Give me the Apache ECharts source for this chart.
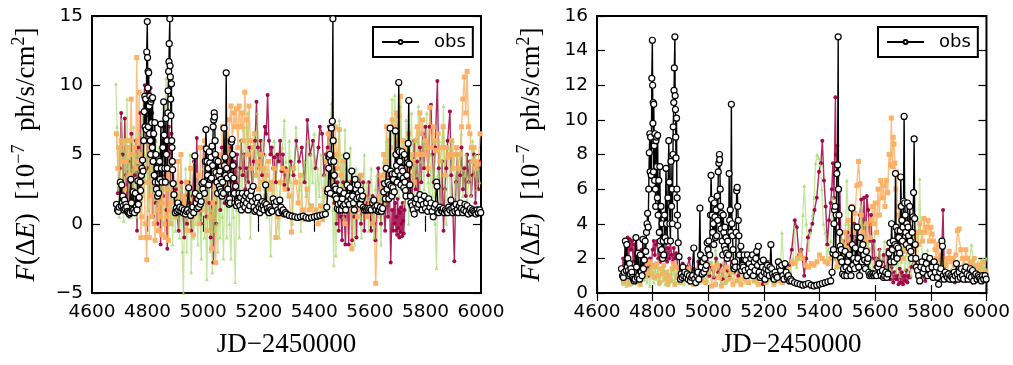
<!DOCTYPE html>
<html>
<head>
<meta charset="utf-8">
<script src="https://cdn.jsdelivr.net/npm/echarts@6/dist/echarts.min.js"></script>
<style>
html,body{margin:0;padding:0;background:#fff;}
#chart{width:1013px;height:365px;}
</style>
</head>
<body>
<div id="chart"></div>
<script>
// ---- tick labels / axes ----
const xTicks = [4600, 4800, 5000, 5200, 5400, 5600, 5800, 6000];
const leftYTicks = [-5, 0, 5, 10, 15];
const rightYTicks = [0, 2, 4, 6, 8, 10, 12, 14, 16];
const xTitle = 'JD\u22122450000';
const legendName = 'obs';

// ---- observed light curve (shared by both panels) ----
const obs = [
[4688,1.4],[4692,1.0],[4695,0.9],[4698,1.2],[4702,3.0],[4705,1.3],[4707,2.8],[4709,1.5],[4711,2.0],[4713,1.3],[4715,1.0],[4717,1.7],[4719,1.1],[4722,1.4],[4725,1.2],[4728,0.9],[4731,0.8],[4734,0.7],[4737,0.8],[4740,3.2],[4742,1.5],[4745,0.9],[4748,2.3],[4750,1.0],[4753,0.8],[4756,2.2],[4759,1.2],[4762,1.0],[4765,3.1],[4767,1.4],[4770,1.9],[4773,3.0],[4775,2.4],[4778,3.5],[4780,4.0],[4782,4.6],[4784,3.8],[4786,6.0],[4788,8.1],[4790,9.2],[4791,7.0],[4793,9.0],[4795,6.8],[4797,12.4],[4799,14.6],[4800,12.0],[4801,9.8],[4802,11.0],[4803,7.0],[4804,10.9],[4806,8.5],[4807,6.5],[4808,9.2],[4810,6.0],[4811,5.0],[4812,8.8],[4814,9.0],[4815,7.3],[4817,5.5],[4818,9.1],[4820,4.5],[4822,6.5],[4824,3.5],[4826,7.3],[4828,3.0],[4830,5.0],[4832,2.5],[4834,4.0],[4836,2.0],[4838,3.0],[4840,2.2],[4843,4.5],[4845,3.2],[4848,7.2],[4850,4.0],[4852,3.0],[4855,5.5],[4858,8.8],[4860,6.4],[4862,4.0],[4864,3.0],[4866,7.6],[4868,5.0],[4870,6.0],[4871,4.0],[4873,8.0],[4874,9.6],[4876,11.0],[4877,11.7],[4878,13.0],[4880,14.8],[4881,11.4],[4882,10.6],[4883,9.0],[4884,7.8],[4886,10.1],[4887,6.0],[4888,5.5],[4889,4.5],[4890,3.9],[4892,2.9],[4895,2.1],
[4900,0.8],[4903,1.1],[4906,0.9],[4909,1.5],[4912,1.0],[4916,1.2],[4920,0.9],[4924,1.1],[4928,0.8],[4932,1.0],[4936,0.7],[4940,0.9],[4944,1.0],[4948,2.6],[4951,0.8],[4955,0.6],[4959,1.0],[4963,1.2],[4966,0.8],[4970,4.9],[4972,2.2],[4975,1.5],[4978,1.1],[4981,1.8],[4984,1.2],[4987,2.0],[4990,1.4],[4993,1.6],[4996,2.9],[4999,2.5],[5002,3.0],[5005,2.2],[5008,4.5],[5010,6.8],[5012,5.4],[5014,4.5],[5016,3.5],[5018,4.0],[5020,2.8],[5022,5.2],[5024,4.4],[5026,3.2],[5028,4.8],[5030,3.3],[5032,5.6],[5034,4.2],[5036,7.0],[5038,7.5],[5040,8.0],[5041,7.7],[5043,6.0],[5044,5.0],[5046,3.7],[5048,4.6],[5050,3.0],[5052,2.2],[5054,4.5],[5056,3.5],[5058,2.7],[5060,3.8],[5062,2.5],[5064,3.2],[5066,2.3],[5068,2.0],[5070,3.0],[5073,2.2],[5075,6.9],[5077,4.2],[5079,4.8],[5081,3.5],[5083,10.9],[5085,4.0],[5087,3.3],[5089,2.5],[5091,1.6],[5093,1.4],[5095,1.8],[5098,1.5],[5100,3.5],[5102,5.9],[5104,6.1],[5106,5.0],[5108,4.2],[5110,3.3],[5112,2.2],[5114,1.5],[5117,2.7],[5120,1.3],[5123,1.6],[5126,1.5],[5129,2.2],[5132,1.3],[5135,1.9],[5138,1.0],[5141,2.2],[5144,1.4],[5147,1.7],[5150,1.2],[5153,2.0],[5156,1.5],[5159,2.2],[5162,1.0],[5165,1.8],[5168,1.3],[5171,2.0],[5174,2.4],[5177,1.6],[5180,2.7],[5183,1.2],[5186,0.9],[5189,1.8],[5192,1.0],[5195,1.5],[5198,1.9],[5201,1.2],[5204,0.8],[5207,1.4],[5210,1.1],[5213,1.6],[5216,1.3],[5219,1.0],[5222,1.5],[5225,2.8],[5228,1.4],[5231,1.1],[5234,0.9],[5237,0.8],[5240,1.2],[5244,1.0],[5248,0.9],[5252,1.8],[5256,1.5],[5260,1.3],[5264,1.6],[5268,1.0],[5272,0.8],[5276,1.7],[5280,1.2],[5284,0.9],[5288,1.0],[5292,0.7],[5296,0.8],
[5300,0.7],[5310,0.6],[5320,0.55],[5330,0.5],[5340,0.45],[5350,0.5],[5360,0.55],[5370,0.45],[5380,0.4],[5390,0.45],[5400,0.5],[5410,0.55],[5420,0.6],[5430,0.65],[5440,0.7],[5445,1.2],[5448,2.3],[5450,2.5],[5452,4.0],[5454,4.8],[5456,5.0],[5458,2.2],[5460,4.5],[5462,6.9],[5465,7.4],[5467,14.8],[5468,6.0],[5470,4.5],[5472,3.5],[5474,2.7],[5476,2.0],[5478,2.5],[5480,1.8],[5483,1.1],[5486,1.4],[5489,1.0],[5492,2.4],[5495,1.5],[5498,1.0],[5501,1.8],[5504,1.3],[5507,2.2],[5510,1.4],[5513,1.0],[5516,4.9],[5518,2.8],[5520,1.6],[5523,2.0],[5526,1.4],[5529,2.6],[5532,1.8],[5535,3.8],[5538,2.0],[5541,1.5],[5544,1.0],[5547,3.2],[5550,2.5],[5553,1.8],[5556,2.8],[5559,2.2],[5562,1.9],[5565,1.4],[5568,2.4],[5571,1.8],[5574,2.0],[5577,1.2],[5580,1.0],[5584,1.1],[5588,1.0],[5592,1.1],[5596,1.0],[5600,1.1],[5605,1.0],[5610,1.5],[5614,1.7],[5618,1.2],[5622,1.0],[5626,1.3],[5630,0.9],[5634,1.0],[5638,1.2],[5642,0.9],[5646,1.1],[5650,2.3],[5653,2.9],[5656,1.8],[5659,4.0],[5662,2.5],[5665,3.0],[5668,1.8],[5671,2.8],[5673,6.9],[5675,3.8],[5677,2.7],[5679,2.0],[5681,3.6],[5683,2.6],[5685,3.2],[5688,2.3],[5690,3.6],[5692,6.7],[5694,5.0],[5696,4.2],[5698,3.0],[5700,3.8],[5702,5.3],[5704,10.2],[5706,5.2],[5708,4.5],[5710,3.5],[5712,2.8],[5714,4.0],[5716,5.2],[5718,3.8],[5720,3.3],[5722,2.6],[5724,5.0],[5726,3.0],[5728,2.4],[5730,2.0],[5733,3.5],[5736,4.4],[5738,5.8],[5740,8.9],[5742,4.3],[5744,2.8],[5746,2.0],[5748,1.5],[5752,1.3],[5756,1.0],[5760,0.7],[5764,1.5],[5768,1.8],[5772,1.2],[5776,1.4],[5780,2.1],[5784,1.7],[5788,1.0],[5792,1.4],[5796,2.0],[5800,1.1],[5804,1.5],[5808,0.9],[5812,1.8],[5816,1.2],[5820,1.5],[5824,0.9],[5828,0.5],[5832,1.2],[5836,1.4],[5840,3.0],[5842,2.7],[5845,1.0],[5848,0.8],[5852,1.2],[5856,1.0],[5860,0.9],[5864,1.1],[5868,0.8],[5872,1.0],[5876,0.9],[5880,0.8],[5884,1.2],[5888,1.0],[5892,1.7],[5895,1.1],[5898,0.8],[5902,1.2],[5906,0.9],[5910,1.4],[5914,1.0],[5918,0.8],[5922,1.3],[5926,1.5],[5930,1.1],[5934,0.8],[5938,1.0],[5942,1.4],[5946,0.9],[5950,1.3],[5954,0.7],[5958,1.0],[5962,1.1],[5966,0.8],[5970,1.0],[5974,0.9],[5978,0.8],[5982,0.7],[5986,1.0],[5990,0.8],[5995,1.0],[5999,0.8]
];

// ---- left panel models ----
const leftCrimson = [
[4693,2.2],[4700,4.0],[4705,8.0],[4710,5.0],[4714,1.5],[4718,7.6],[4722,3.5],[4726,1.0],[4730,4.5],[4734,0.5],[4738,3.0],[4742,6.5],[4746,2.0],[4750,4.0],[4754,3.5],[4758,6.0],[4762,-0.5],[4766,5.5],[4770,2.5],[4774,8.0],[4778,4.5],[4782,3.0],[4786,9.0],[4790,10.0],[4793,6.0],[4796,8.5],[4799,4.0],[4802,9.5],[4805,7.0],[4808,2.0],[4811,9.8],[4814,5.0],[4817,8.0],[4820,0.5],[4823,3.5],[4826,6.0],[4829,1.5],[4832,4.5],[4835,0.0],[4838,2.5],[4841,5.0],[4844,3.0],[4847,-1.5],[4850,4.5],[4853,6.0],[4856,2.0],[4859,7.0],[4862,3.5],[4865,5.5],[4868,1.0],[4871,-1.8],[4874,4.0],[4877,7.0],[4880,5.0],[4883,3.0],[4886,6.5],[4889,2.0],[4893,4.0],[4897,1.0],[4902,2.5],[4907,0.5],[4912,-0.5],[4917,1.5],[4922,3.0],[4927,1.0],[4932,-1.0],[4937,2.0],[4942,0.0],[4947,3.0],[4952,1.5],[4957,-0.5],[4962,2.0],[4967,4.5],[4972,1.0],[4977,6.2],[4982,2.0],[4987,1.0],[4992,0.0],[4997,3.0],[5002,5.5],[5007,2.0],[5012,0.5],[5017,4.0],[5022,1.5],[5027,-1.0],[5032,3.0],[5037,-2.8],[5042,1.5],[5047,0.0],[5052,4.0],[5057,3.5],[5062,1.0],[5067,5.5],[5072,3.0],[5077,1.5],[5082,4.5],[5087,2.0],[5092,6.0],[5097,3.0],[5102,5.5],[5107,2.5],[5112,4.5],[5117,3.0],[5122,5.0],[5127,2.0],[5132,4.0],[5137,6.0],[5142,3.5],[5147,5.0],[5152,2.5],[5157,4.0],[5162,3.0],[5167,5.5],[5172,4.0],[5177,2.5],[5182,4.5],[5187,6.0],[5192,8.8],[5197,5.5],[5202,4.0],[5207,6.0],[5212,3.5],[5217,5.0],[5222,7.0],[5227,6.5],[5232,9.3],[5237,6.0],[5242,5.0],[5247,5.5],[5252,4.0],[5257,4.8],[5262,3.0],[5267,5.0],[5272,4.5],[5277,6.0],[5282,3.8],[5287,5.0],[5292,2.8],[5297,4.0],[5305,2.5],[5315,4.5],[5325,3.5],[5335,6.0],[5345,4.5],[5355,5.5],[5365,3.0],[5375,7.5],[5385,5.0],[5395,6.0],[5405,4.0],[5415,5.5],[5420,7.0],[5428,6.5],[5435,3.5],[5442,5.0],[5448,5.5],[5452,7.0],[5456,3.0],[5460,4.5],[5464,2.0],[5468,5.0],[5472,1.5],[5476,4.0],[5480,0.0],[5484,3.0],[5488,-0.5],[5492,2.5],[5496,0.5],[5500,-1.2],[5504,3.0],[5508,0.5],[5512,-1.5],[5516,2.0],[5520,1.0],[5524,-1.5],[5528,3.0],[5532,1.5],[5536,-1.2],[5540,2.0],[5544,0.5],[5548,1.8],[5552,-1.0],[5556,2.5],[5560,1.0],[5564,3.5],[5568,0.0],[5572,1.5],[5576,3.0],[5580,-0.5],[5584,2.0],[5588,0.5],[5592,1.5],[5596,3.0],[5600,1.5],[5605,-0.5],[5610,2.0],[5615,0.0],[5620,-1.2],[5625,1.0],[5630,4.0],[5635,2.0],[5640,0.0],[5645,3.0],[5650,1.0],[5655,-0.5],[5660,2.5],[5665,0.5],[5670,3.5],[5675,-2.8],[5680,1.0],[5684,-0.5],[5687,2.0],[5690,0.0],[5692,1.5],[5694,-0.5],[5696,0.5],[5698,-0.8],[5700,1.8],[5702,-0.3],[5704,1.0],[5706,-1.0],[5708,0.8],[5710,-0.6],[5712,1.2],[5714,0.0],[5716,-0.9],[5718,1.5],[5720,0.2],[5722,-0.7],[5725,1.0],[5730,3.0],[5735,5.0],[5740,2.0],[5745,4.0],[5750,1.5],[5755,3.0],[5760,6.0],[5765,2.5],[5770,4.5],[5775,1.0],[5780,5.5],[5785,3.0],[5790,6.5],[5795,4.0],[5800,7.0],[5805,5.5],[5810,3.5],[5815,7.0],[5820,8.6],[5825,5.0],[5830,3.0],[5835,5.5],[5843,10.3],[5848,4.0],[5855,1.0],[5860,4.5],[5865,-0.5],[5870,2.5],[5875,4.0],[5880,6.0],[5888,8.1],[5893,3.5],[5898,1.5],[5904,-2.7],[5910,3.0],[5915,5.0],[5920,1.0],[5925,3.5],[5930,5.5],[5935,2.5],[5940,4.0],[5945,2.0],[5950,5.0],[5955,3.0],[5960,4.5],[5965,2.0],[5970,3.5],[5975,5.0],[5980,1.5],[5985,4.0],[5990,2.5],[5995,4.5]
];
const leftOrange = [
[4688,6.5],[4693,4.0],[4697,5.5],[4701,3.0],[4705,6.0],[4709,4.5],[4713,5.8],[4717,2.5],[4721,6.0],[4725,4.5],[4729,5.5],[4733,3.5],[4737,6.0],[4741,9.0],[4745,5.0],[4749,2.0],[4753,5.5],[4757,4.0],[4761,12.0],[4764,6.0],[4767,4.5],[4770,9.5],[4773,3.0],[4776,-1.0],[4779,0.5],[4782,5.0],[4785,8.0],[4788,4.0],[4791,0.0],[4794,-1.0],[4797,-2.6],[4800,3.0],[4803,7.5],[4806,-1.0],[4809,2.0],[4812,5.0],[4815,0.5],[4818,6.0],[4821,3.5],[4824,0.0],[4827,-1.2],[4830,2.0],[4833,4.5],[4836,1.0],[4839,-0.5],[4842,3.0],[4845,0.5],[4848,2.0],[4851,-0.8],[4854,1.5],[4857,4.0],[4860,0.0],[4863,-1.0],[4866,2.5],[4869,0.5],[4872,3.5],[4875,-1.2],[4878,1.0],[4881,2.5],[4884,0.0],[4887,4.0],[4890,1.5],[4895,3.0],[4900,0.5],[4905,2.0],[4910,4.5],[4915,1.0],[4920,5.0],[4925,0.8],[4930,2.0],[4935,1.5],[4940,3.0],[4945,-0.5],[4950,1.0],[4955,4.0],[4960,0.5],[4965,-0.8],[4970,2.0],[4975,1.0],[4980,3.5],[4985,0.0],[4990,5.5],[4995,1.0],[5000,3.0],[5005,6.0],[5010,2.0],[5015,-0.5],[5020,3.5],[5025,0.5],[5030,-1.8],[5035,1.5],[5040,4.0],[5045,-2.8],[5050,3.0],[5055,5.0],[5060,2.5],[5065,4.5],[5070,7.0],[5075,4.0],[5080,6.0],[5085,3.0],[5090,5.0],[5095,7.5],[5100,8.5],[5105,6.0],[5110,8.0],[5115,7.0],[5120,8.3],[5125,5.5],[5130,8.5],[5135,7.0],[5140,8.0],[5145,6.0],[5150,9.5],[5155,7.5],[5160,5.0],[5165,8.5],[5170,6.0],[5175,4.0],[5180,5.5],[5185,6.5],[5190,3.5],[5195,4.5],[5200,2.5],[5205,4.0],[5210,5.0],[5215,3.0],[5220,4.0],[5225,2.0],[5230,3.5],[5235,4.5],[5240,2.5],[5245,3.0],[5250,1.5],[5255,4.0],[5262,-1.0],[5270,0.5],[5278,3.0],[5286,4.0],[5294,2.5],[5302,3.8],[5310,2.0],[5318,-0.6],[5326,4.0],[5334,3.0],[5342,1.5],[5350,3.5],[5358,1.0],[5366,0.3],[5374,2.5],[5382,1.0],[5390,1.3],[5398,0.5],[5406,1.0],[5414,0.0],[5422,1.3],[5430,0.3],[5438,2.5],[5445,4.5],[5450,6.5],[5455,4.5],[5460,3.0],[5465,6.0],[5470,3.5],[5475,7.0],[5480,5.0],[5485,4.0],[5490,6.8],[5495,3.5],[5500,2.0],[5505,4.5],[5510,0.0],[5515,2.5],[5520,3.0],[5525,1.0],[5530,2.5],[5535,-1.8],[5540,1.5],[5545,3.0],[5550,2.0],[5555,0.5],[5560,2.5],[5565,1.0],[5570,3.5],[5575,1.5],[5580,2.0],[5590,0.5],[5600,1.5],[5610,0.0],[5615,1.0],[5621,-4.3],[5628,1.0],[5635,2.0],[5640,3.5],[5645,1.5],[5650,5.0],[5655,3.5],[5660,7.0],[5665,4.5],[5670,6.0],[5675,5.5],[5680,7.5],[5685,7.0],[5690,5.0],[5695,8.0],[5700,6.0],[5705,7.8],[5710,9.2],[5715,4.0],[5720,6.0],[5725,3.0],[5730,5.5],[5735,4.0],[5740,6.5],[5745,3.5],[5750,5.0],[5755,4.5],[5760,3.0],[5765,6.0],[5770,7.0],[5775,5.0],[5780,8.0],[5785,6.5],[5790,7.5],[5795,5.0],[5800,6.0],[5805,5.5],[5810,4.0],[5816,8.4],[5822,5.5],[5828,7.0],[5834,6.0],[5840,5.3],[5846,6.5],[5852,4.5],[5858,5.5],[5864,7.0],[5870,3.5],[5876,5.5],[5882,4.8],[5888,5.0],[5894,6.0],[5900,4.0],[5906,5.0],[5912,5.5],[5918,4.0],[5924,5.0],[5930,7.0],[5935,9.0],[5940,10.6],[5945,8.0],[5950,11.0],[5955,7.0],[5960,6.5],[5965,5.5],[5970,4.5],[5975,5.5],[5980,4.0],[5985,4.5],[5990,4.3],[5997,6.5]
];
const leftGreen = [
[4686,10.1],[4690,7.0],[4694,3.0],[4698,0.5],[4702,5.0],[4706,7.5],[4710,2.0],[4714,0.2],[4718,6.0],[4722,3.5],[4726,9.0],[4730,4.0],[4734,1.5],[4738,6.0],[4742,0.5],[4746,4.0],[4750,7.0],[4754,2.5],[4758,5.0],[4762,0.5],[4766,3.0],[4770,6.5],[4774,1.5],[4778,4.5],[4782,8.0],[4786,2.0],[4790,5.0],[4794,3.0],[4798,6.0],[4802,1.0],[4806,4.0],[4810,7.0],[4814,2.5],[4818,5.5],[4822,0.5],[4826,4.0],[4830,6.0],[4834,1.5],[4838,3.5],[4842,5.5],[4846,2.0],[4850,4.5],[4854,0.0],[4858,6.5],[4862,3.0],[4866,10.5],[4870,7.0],[4874,2.5],[4878,5.0],[4882,0.0],[4886,3.0],[4890,-1.5],[4895,2.0],[4900,-0.5],[4905,3.0],[4910,0.5],[4915,-1.0],[4920,2.5],[4925,-2.0],[4929,-5.0],[4933,1.0],[4937,4.0],[4941,-2.0],[4945,2.0],[4949,0.5],[4953,5.0],[4957,-3.5],[4961,1.0],[4965,-1.0],[4969,4.5],[4973,0.0],[4977,2.5],[4981,-1.5],[4985,3.0],[4989,0.5],[4993,-2.5],[4997,1.5],[5001,4.0],[5005,-1.0],[5009,2.0],[5013,-4.0],[5017,0.5],[5021,3.5],[5025,-2.0],[5029,1.0],[5033,-3.5],[5037,2.5],[5041,-0.5],[5045,3.0],[5049,0.0],[5053,-2.0],[5057,2.0],[5061,-1.0],[5065,4.0],[5069,0.5],[5073,-2.5],[5077,2.0],[5081,5.0],[5085,-1.0],[5090,3.0],[5095,0.0],[5100,-2.5],[5105,2.0],[5110,0.5],[5115,-4.2],[5120,1.0],[5125,4.0],[5130,-1.0],[5135,6.0],[5140,2.0],[5145,5.0],[5150,7.0],[5155,3.0],[5160,8.0],[5165,4.0],[5170,-1.0],[5175,2.0],[5180,5.5],[5185,6.5],[5190,3.5],[5195,8.0],[5200,5.0],[5205,1.5],[5210,4.0],[5215,6.0],[5220,2.5],[5225,5.0],[5230,0.5],[5235,3.0],[5243,-2.3],[5250,2.0],[5256,6.0],[5262,4.0],[5268,1.0],[5274,-1.0],[5280,3.0],[5286,5.5],[5292,7.5],[5298,4.5],[5304,2.0],[5310,6.0],[5316,3.0],[5322,0.0],[5328,4.0],[5334,7.0],[5340,5.5],[5346,2.5],[5352,-0.5],[5358,3.5],[5364,4.5],[5370,2.0],[5376,6.0],[5382,1.5],[5388,5.0],[5394,3.0],[5400,6.5],[5406,1.0],[5412,4.0],[5418,2.0],[5424,5.0],[5430,0.5],[5436,3.5],[5442,2.0],[5448,4.5],[5455,6.0],[5462,8.7],[5466,1.0],[5470,-3.0],[5474,3.5],[5478,-2.3],[5484,5.0],[5490,7.5],[5495,2.0],[5500,5.0],[5505,0.5],[5510,6.8],[5515,4.0],[5520,1.0],[5525,3.0],[5530,5.5],[5535,0.0],[5540,2.5],[5545,-1.5],[5550,4.0],[5555,1.5],[5560,3.5],[5565,0.5],[5570,-1.0],[5575,2.5],[5580,5.0],[5585,1.0],[5590,3.0],[5595,-0.5],[5600,2.0],[5605,4.0],[5610,1.0],[5615,-1.0],[5620,2.5],[5625,3.5],[5630,0.5],[5635,2.0],[5640,-1.5],[5645,2.0],[5650,4.5],[5655,1.5],[5660,6.0],[5665,3.0],[5670,7.0],[5675,4.0],[5680,9.0],[5685,5.0],[5690,9.3],[5695,3.0],[5700,6.5],[5705,2.0],[5710,8.5],[5715,5.5],[5720,4.0],[5725,1.5],[5730,7.5],[5735,3.0],[5740,0.0],[5745,5.0],[5750,8.0],[5755,4.0],[5760,2.0],[5765,6.0],[5770,3.5],[5775,8.5],[5780,1.0],[5785,4.5],[5790,6.0],[5795,2.5],[5800,5.5],[5805,8.0],[5810,3.0],[5815,1.0],[5820,5.0],[5825,2.0],[5830,6.0],[5835,0.0],[5840,-3.2],[5845,3.5],[5850,6.0],[5855,1.0],[5860,4.5],[5865,8.5],[5870,2.5],[5875,0.0],[5880,3.5],[5885,5.5],[5890,1.0],[5895,4.0],[5900,6.0],[5905,2.0],[5910,3.0],[5915,5.0],[5920,1.5],[5925,4.0],[5930,6.5],[5935,2.0],[5940,3.5],[5945,5.0],[5950,1.0],[5955,3.0],[5960,4.5],[5965,2.0],[5970,6.0],[5975,3.5],[5980,5.0],[5985,2.5],[5990,4.0],[5995,3.0]
];

// ---- right panel models ----
const rightCrimson = [
[4690,1.0],[4694,2.0],[4698,1.2],[4702,3.0],[4706,2.2],[4710,3.2],[4714,2.0],[4718,3.1],[4722,2.5],[4726,3.0],[4730,1.8],[4734,2.8],[4738,1.5],[4742,3.1],[4746,1.8],[4750,1.0],[4755,1.5],[4760,2.5],[4765,1.2],[4770,1.0],[4775,2.0],[4780,1.5],[4785,1.0],[4790,2.0],[4795,1.6],[4800,2.5],[4804,3.0],[4808,2.2],[4812,2.8],[4816,3.0],[4820,2.0],[4824,2.5],[4828,1.8],[4832,2.2],[4836,3.0],[4840,2.5],[4844,2.0],[4848,2.9],[4852,1.8],[4856,2.6],[4860,2.0],[4864,3.0],[4868,2.2],[4872,1.8],[4876,2.6],[4880,2.0],[4885,2.3],[4890,1.5],[4895,1.0],[4900,1.3],[4908,1.7],[4916,0.9],[4924,1.5],[4932,2.0],[4940,0.8],[4948,1.4],[4956,1.0],[4964,1.8],[4972,1.2],[4980,1.5],[4988,1.1],[4996,2.3],[5004,1.0],[5012,1.5],[5020,0.9],[5028,2.0],[5036,1.2],[5044,1.6],[5052,0.8],[5060,2.2],[5068,1.3],[5076,0.9],[5084,1.8],[5092,1.2],[5100,1.5],[5108,1.0],[5116,1.8],[5124,1.3],[5132,2.0],[5140,1.5],[5148,1.0],[5156,1.8],[5164,2.0],[5172,1.2],[5180,2.2],[5188,1.2],[5196,0.5],[5204,1.6],[5212,1.8],[5220,1.0],[5228,1.4],[5236,0.9],[5244,1.2],[5252,0.8],[5260,1.0],[5270,1.5],[5280,1.2],[5290,1.6],[5300,2.5],[5311,4.2],[5318,3.8],[5326,2.2],[5335,2.5],[5345,1.0],[5352,2.0],[5358,3.2],[5366,3.6],[5374,4.0],[5382,4.8],[5390,5.5],[5398,7.0],[5405,7.5],[5410,8.8],[5416,6.5],[5422,5.0],[5428,2.8],[5434,4.2],[5440,5.2],[5444,6.0],[5448,7.5],[5452,5.5],[5457,11.3],[5459,8.0],[5461,7.0],[5464,8.5],[5467,5.0],[5470,4.0],[5473,6.0],[5476,3.5],[5480,2.5],[5485,3.0],[5490,2.0],[5495,2.4],[5500,3.5],[5505,2.8],[5510,2.0],[5515,3.3],[5520,2.5],[5525,4.0],[5530,3.0],[5535,2.2],[5540,3.8],[5545,4.5],[5550,5.4],[5555,3.0],[5560,5.5],[5565,2.5],[5570,5.6],[5575,4.8],[5580,3.0],[5585,4.5],[5590,2.0],[5595,3.0],[5600,1.5],[5605,2.0],[5610,1.5],[5615,2.5],[5620,1.0],[5625,1.8],[5630,2.2],[5635,1.5],[5640,1.0],[5645,2.5],[5650,1.2],[5655,0.8],[5660,1.5],[5665,0.6],[5670,1.2],[5675,0.8],[5680,1.0],[5684,0.5],[5688,1.4],[5692,0.6],[5696,1.2],[5700,0.5],[5704,1.0],[5708,0.7],[5712,1.3],[5716,0.6],[5720,1.0],[5725,0.9],[5730,1.5],[5740,2.0],[5750,1.2],[5760,0.8],[5770,1.0],[5780,0.7],[5790,1.6],[5800,1.2],[5810,0.9],[5820,1.4],[5830,1.0],[5838,2.0],[5844,4.8],[5848,1.5],[5855,1.0],[5862,0.8],[5870,1.2],[5878,0.9],[5886,0.6],[5894,1.0],[5902,0.8],[5910,1.2],[5918,0.9],[5926,0.7],[5934,1.0],[5942,0.8],[5950,0.6],[5958,1.0],[5966,0.9],[5974,0.7],[5982,1.0],[5990,0.8],[5998,1.0]
];
const rightOrange = [
[4690,1.0],[4695,0.6],[4700,1.2],[4705,0.8],[4710,1.5],[4715,0.5],[4720,1.3],[4725,0.9],[4730,1.6],[4735,0.7],[4740,1.2],[4745,0.6],[4750,1.1],[4755,0.5],[4760,1.3],[4765,0.8],[4770,1.5],[4775,1.0],[4780,1.7],[4785,1.2],[4790,1.8],[4795,1.1],[4800,1.6],[4805,0.9],[4810,1.5],[4815,1.7],[4820,1.0],[4825,0.6],[4830,1.4],[4835,1.1],[4840,1.6],[4845,0.8],[4850,1.2],[4855,0.5],[4860,1.0],[4865,0.7],[4870,1.4],[4875,1.7],[4880,0.5],[4885,1.5],[4890,0.9],[4895,1.2],[4900,0.6],[4907,1.3],[4914,1.0],[4921,0.8],[4928,1.4],[4935,0.6],[4942,1.0],[4949,0.5],[4956,1.1],[4963,0.8],[4970,1.4],[4977,0.7],[4984,1.5],[4991,0.6],[4998,1.2],[5005,1.7],[5012,0.4],[5019,1.5],[5026,0.5],[5033,1.6],[5040,0.9],[5047,0.4],[5054,1.3],[5061,0.6],[5068,1.5],[5075,0.8],[5082,1.2],[5089,0.5],[5096,1.4],[5103,0.7],[5110,1.6],[5117,0.5],[5124,1.2],[5131,0.8],[5138,1.4],[5145,0.6],[5152,1.1],[5159,1.5],[5166,0.7],[5173,1.2],[5180,0.5],[5187,1.3],[5194,0.9],[5201,1.5],[5208,0.6],[5215,1.2],[5222,0.8],[5229,1.4],[5236,0.5],[5243,1.0],[5250,0.7],[5258,1.2],[5266,0.6],[5274,1.0],[5282,1.4],[5290,1.0],[5300,1.8],[5310,1.7],[5320,2.0],[5330,2.2],[5340,2.0],[5350,1.6],[5360,1.5],[5370,1.7],[5380,1.6],[5390,1.8],[5400,2.2],[5410,2.0],[5420,1.8],[5430,1.7],[5440,2.0],[5450,2.3],[5456,2.0],[5462,1.5],[5468,2.5],[5474,1.8],[5480,3.0],[5486,2.2],[5492,3.5],[5498,2.6],[5504,4.2],[5510,3.0],[5516,5.0],[5522,3.5],[5528,4.6],[5534,6.2],[5540,7.6],[5545,6.3],[5550,4.5],[5555,3.5],[5560,2.5],[5565,3.0],[5570,4.0],[5575,2.5],[5580,3.2],[5585,4.2],[5590,5.0],[5595,4.0],[5600,5.2],[5605,3.5],[5610,6.0],[5615,4.5],[5620,6.5],[5625,5.5],[5630,6.2],[5635,5.0],[5640,6.5],[5645,5.8],[5650,8.0],[5655,7.4],[5658,10.1],[5662,7.3],[5665,9.0],[5668,8.6],[5671,7.5],[5674,6.0],[5677,7.0],[5680,5.0],[5684,4.5],[5688,2.8],[5692,3.5],[5696,2.5],[5700,2.0],[5705,3.0],[5710,2.4],[5715,3.2],[5720,3.0],[5725,4.2],[5730,3.8],[5735,3.2],[5740,2.5],[5745,2.0],[5750,3.5],[5755,2.8],[5760,4.0],[5765,3.5],[5770,3.0],[5775,4.3],[5780,3.5],[5785,3.8],[5790,4.2],[5795,3.0],[5800,3.8],[5805,3.4],[5810,3.0],[5815,2.5],[5820,2.0],[5825,2.8],[5830,1.8],[5835,2.2],[5840,2.0],[5850,1.8],[5855,1.6],[5860,2.0],[5866,2.4],[5872,1.8],[5878,2.0],[5884,1.6],[5890,2.2],[5896,3.6],[5902,3.7],[5908,2.5],[5914,2.0],[5920,1.6],[5926,2.5],[5932,2.0],[5938,1.6],[5944,1.8],[5950,1.5],[5956,2.0],[5962,1.3],[5968,1.6],[5974,1.2],[5980,1.5],[5986,1.8],[5992,1.3],[5998,1.2]
];
const rightGreen = [
[4690,0.8],[4695,0.5],[4700,1.2],[4705,0.4],[4710,1.0],[4715,0.7],[4720,1.4],[4725,0.5],[4730,1.2],[4735,0.9],[4740,1.4],[4745,0.6],[4750,1.0],[4755,1.3],[4760,0.5],[4765,1.2],[4770,0.8],[4775,1.5],[4780,0.6],[4785,1.1],[4790,0.4],[4795,1.5],[4800,1.0],[4805,0.6],[4810,1.3],[4815,0.8],[4820,1.5],[4825,0.5],[4830,1.2],[4835,0.7],[4840,1.4],[4845,0.5],[4850,1.0],[4855,1.3],[4860,0.6],[4865,1.2],[4870,0.8],[4875,1.4],[4880,0.5],[4885,1.1],[4890,0.7],[4895,1.3],[4900,0.6],[4907,1.2],[4914,0.5],[4921,1.0],[4928,0.7],[4935,1.3],[4942,0.5],[4949,1.1],[4956,0.8],[4963,1.4],[4970,0.6],[4977,1.2],[4984,0.9],[4991,1.5],[4998,0.7],[5005,1.2],[5012,1.8],[5019,1.0],[5026,2.5],[5033,1.8],[5040,1.2],[5047,0.6],[5054,1.8],[5061,1.0],[5068,0.7],[5075,1.4],[5082,0.9],[5089,1.2],[5096,2.2],[5103,1.5],[5110,0.8],[5117,1.3],[5124,1.0],[5131,0.6],[5138,1.4],[5145,1.0],[5152,1.6],[5159,0.8],[5166,1.2],[5173,0.6],[5180,1.5],[5187,0.9],[5194,2.0],[5201,1.1],[5208,0.7],[5215,1.3],[5222,0.8],[5229,1.2],[5236,0.6],[5243,1.0],[5250,1.8],[5258,1.0],[5265,3.5],[5272,1.2],[5280,1.4],[5288,1.0],[5296,1.2],[5305,2.0],[5310,3.8],[5318,1.5],[5326,2.0],[5334,2.5],[5340,4.5],[5345,6.2],[5352,4.0],[5360,2.5],[5368,3.5],[5375,4.5],[5380,5.5],[5386,7.5],[5391,8.0],[5397,7.8],[5403,7.4],[5408,6.0],[5414,4.0],[5420,3.5],[5426,2.0],[5432,2.5],[5440,3.0],[5448,5.5],[5455,3.0],[5462,2.0],[5470,1.5],[5478,3.0],[5486,2.2],[5494,4.0],[5498,6.5],[5504,4.0],[5510,2.5],[5516,1.8],[5522,3.0],[5528,2.0],[5534,3.5],[5540,2.0],[5546,4.0],[5550,5.0],[5556,2.0],[5562,4.0],[5568,1.5],[5574,3.0],[5580,1.5],[5586,2.0],[5592,1.2],[5598,3.5],[5604,2.0],[5610,1.5],[5616,2.5],[5622,1.8],[5628,2.0],[5634,3.0],[5640,1.5],[5646,1.2],[5652,2.0],[5658,1.0],[5664,1.6],[5670,2.4],[5676,1.2],[5682,2.0],[5688,1.0],[5694,1.8],[5700,2.6],[5706,1.4],[5712,2.2],[5718,1.2],[5724,1.8],[5730,1.0],[5736,2.0],[5742,1.4],[5748,1.0],[5754,2.0],[5760,6.6],[5764,3.5],[5770,2.0],[5776,1.5],[5782,1.0],[5788,2.5],[5794,1.2],[5800,1.8],[5806,1.0],[5812,1.5],[5818,0.8],[5824,1.2],[5830,1.8],[5836,1.0],[5842,1.5],[5850,1.2],[5858,1.8],[5866,1.0],[5874,1.4],[5882,0.8],[5890,1.2],[5898,1.6],[5906,1.0],[5914,1.4],[5922,0.9],[5930,1.3],[5938,1.6],[5946,2.8],[5952,2.0],[5958,1.5],[5964,1.2],[5970,1.8],[5976,1.0],[5982,1.5],[5988,2.0],[5994,1.4],[5999,2.0]
];

// ---- styling ----
const C_CRIMSON = '#9e0142';
const C_ORANGE = '#fdae61';
const C_GREEN = '#a6d96a';
const SANS = 'DejaVu Sans';
const SERIF = 'Liberation Serif';
const TICK_FS = 18.5;

function numFmt(v) { return v < 0 ? '\u2212' + Math.abs(v) : String(v); }

const yNameRich = {
  n: { fontFamily: SERIF, fontSize: 27, color: '#000', verticalAlign: 'bottom', lineHeight: 32 },
  i: { fontFamily: SERIF, fontSize: 27, fontStyle: 'italic', color: '#000', verticalAlign: 'bottom', lineHeight: 32 },
  s: { fontFamily: SERIF, fontSize: 18, color: '#000', verticalAlign: 'bottom', lineHeight: 32, padding: [0, 0, 12, 0] }
};
const yName = '{i|F}{n|(\u0394}{i|E}{n|)  [10}{s|\u22127}{n|  ph/s/cm}{s|2}{n|]}';

function xAx(gridIndex, bottom) {
  return {
    type: 'value', gridIndex, position: bottom ? 'bottom' : 'top',
    min: xTicks[0], max: xTicks[xTicks.length - 1], interval: xTicks[1] - xTicks[0],
    axisLine: { show: false },
    axisTick: { show: true, inside: true, length: 8, lineStyle: { color: '#000', width: 1.2 } },
    axisLabel: { show: bottom, margin: 10, fontFamily: SANS, fontSize: TICK_FS, color: '#000', formatter: numFmt },
    splitLine: { show: false },
    name: bottom ? xTitle : '', nameLocation: 'middle', nameGap: 38,
    nameTextStyle: { fontFamily: SERIF, fontSize: 27, color: '#000' }
  };
}
function yAx(gridIndex, left, ticks) {
  return {
    type: 'value', gridIndex, position: left ? 'left' : 'right',
    min: ticks[0], max: ticks[ticks.length - 1], interval: ticks[1] - ticks[0],
    axisLine: { show: false },
    axisTick: { show: true, inside: true, length: 8, lineStyle: { color: '#000', width: 1.2 } },
    axisLabel: { show: left, margin: 9, fontFamily: SANS, fontSize: TICK_FS, color: '#000', formatter: numFmt },
    splitLine: { show: false },
    name: left ? yName : '', nameLocation: 'middle', nameGap: 52,
    nameTextStyle: { rich: yNameRich }
  };
}

function modelSeries(data, xi, yi, kind) {
  const base = { type: 'line', xAxisIndex: xi, yAxisIndex: yi, data, silent: true, z: 2 };
  if (kind === 'crimson') {
    return Object.assign(base, {
      symbol: 'circle', symbolSize: 4,
      lineStyle: { color: C_CRIMSON, width: 1.4, opacity: 0.85 },
      itemStyle: { color: C_CRIMSON, opacity: 0.95 }
    });
  } else if (kind === 'orange') {
    return Object.assign(base, {
      symbol: 'rect', symbolSize: 5,
      lineStyle: { color: C_ORANGE, width: 1.4, opacity: 0.8 },
      itemStyle: { color: C_ORANGE, opacity: 0.95 }
    });
  }
  return Object.assign(base, {
    symbol: 'triangle', symbolSize: 4,
    lineStyle: { color: C_GREEN, width: 1.3, opacity: 0.65 },
    itemStyle: { color: C_GREEN, opacity: 0.75 }
  });
}
function obsSeries(xi, yi) {
  return {
    name: legendName, type: 'line', xAxisIndex: xi, yAxisIndex: yi, data: obs, z: 5,
    symbol: 'circle', symbolSize: 6,
    lineStyle: { color: '#000', width: 1.4 },
    itemStyle: { color: '#fff', borderColor: '#000', borderWidth: 1.2 }
  };
}
function legendFor(left) {
  return {
    data: [legendName], left, top: 27, orient: 'horizontal',
    borderColor: '#000', borderWidth: 2, borderRadius: 0, padding: [6, 7, 6, 8],
    itemWidth: 37, itemHeight: 5, selectedMode: false,
    formatter: '{a|{name}}',
    textStyle: { rich: { a: { fontFamily: SANS, fontSize: 18, color: '#000', lineHeight: 20, padding: [0, 0, 0, 10] } } }
  };
}

const chart = echarts.init(document.getElementById('chart'), null, { renderer: 'canvas' });
chart.setOption({
  animation: false,
  backgroundColor: '#fff',
  grid: [
    { left: 92, top: 16, width: 389, height: 277, show: true, borderColor: '#000', borderWidth: 2, backgroundColor: 'transparent' },
    { left: 597, top: 16, width: 390, height: 277, show: true, borderColor: '#000', borderWidth: 2, backgroundColor: 'transparent' }
  ],
  xAxis: [xAx(0, true), xAx(0, false), xAx(1, true), xAx(1, false)],
  yAxis: [yAx(0, true, leftYTicks), yAx(0, false, leftYTicks), yAx(1, true, rightYTicks), yAx(1, false, rightYTicks)],
  legend: [legendFor(373), legendFor(878)],
  series: [
    modelSeries(leftCrimson, 0, 0, 'crimson'),
    modelSeries(leftOrange, 0, 0, 'orange'),
    modelSeries(leftGreen, 0, 0, 'green'),
    obsSeries(0, 0),
    modelSeries(rightCrimson, 2, 2, 'crimson'),
    modelSeries(rightOrange, 2, 2, 'orange'),
    modelSeries(rightGreen, 2, 2, 'green'),
    obsSeries(2, 2)
  ]
});
</script>
</body>
</html>
